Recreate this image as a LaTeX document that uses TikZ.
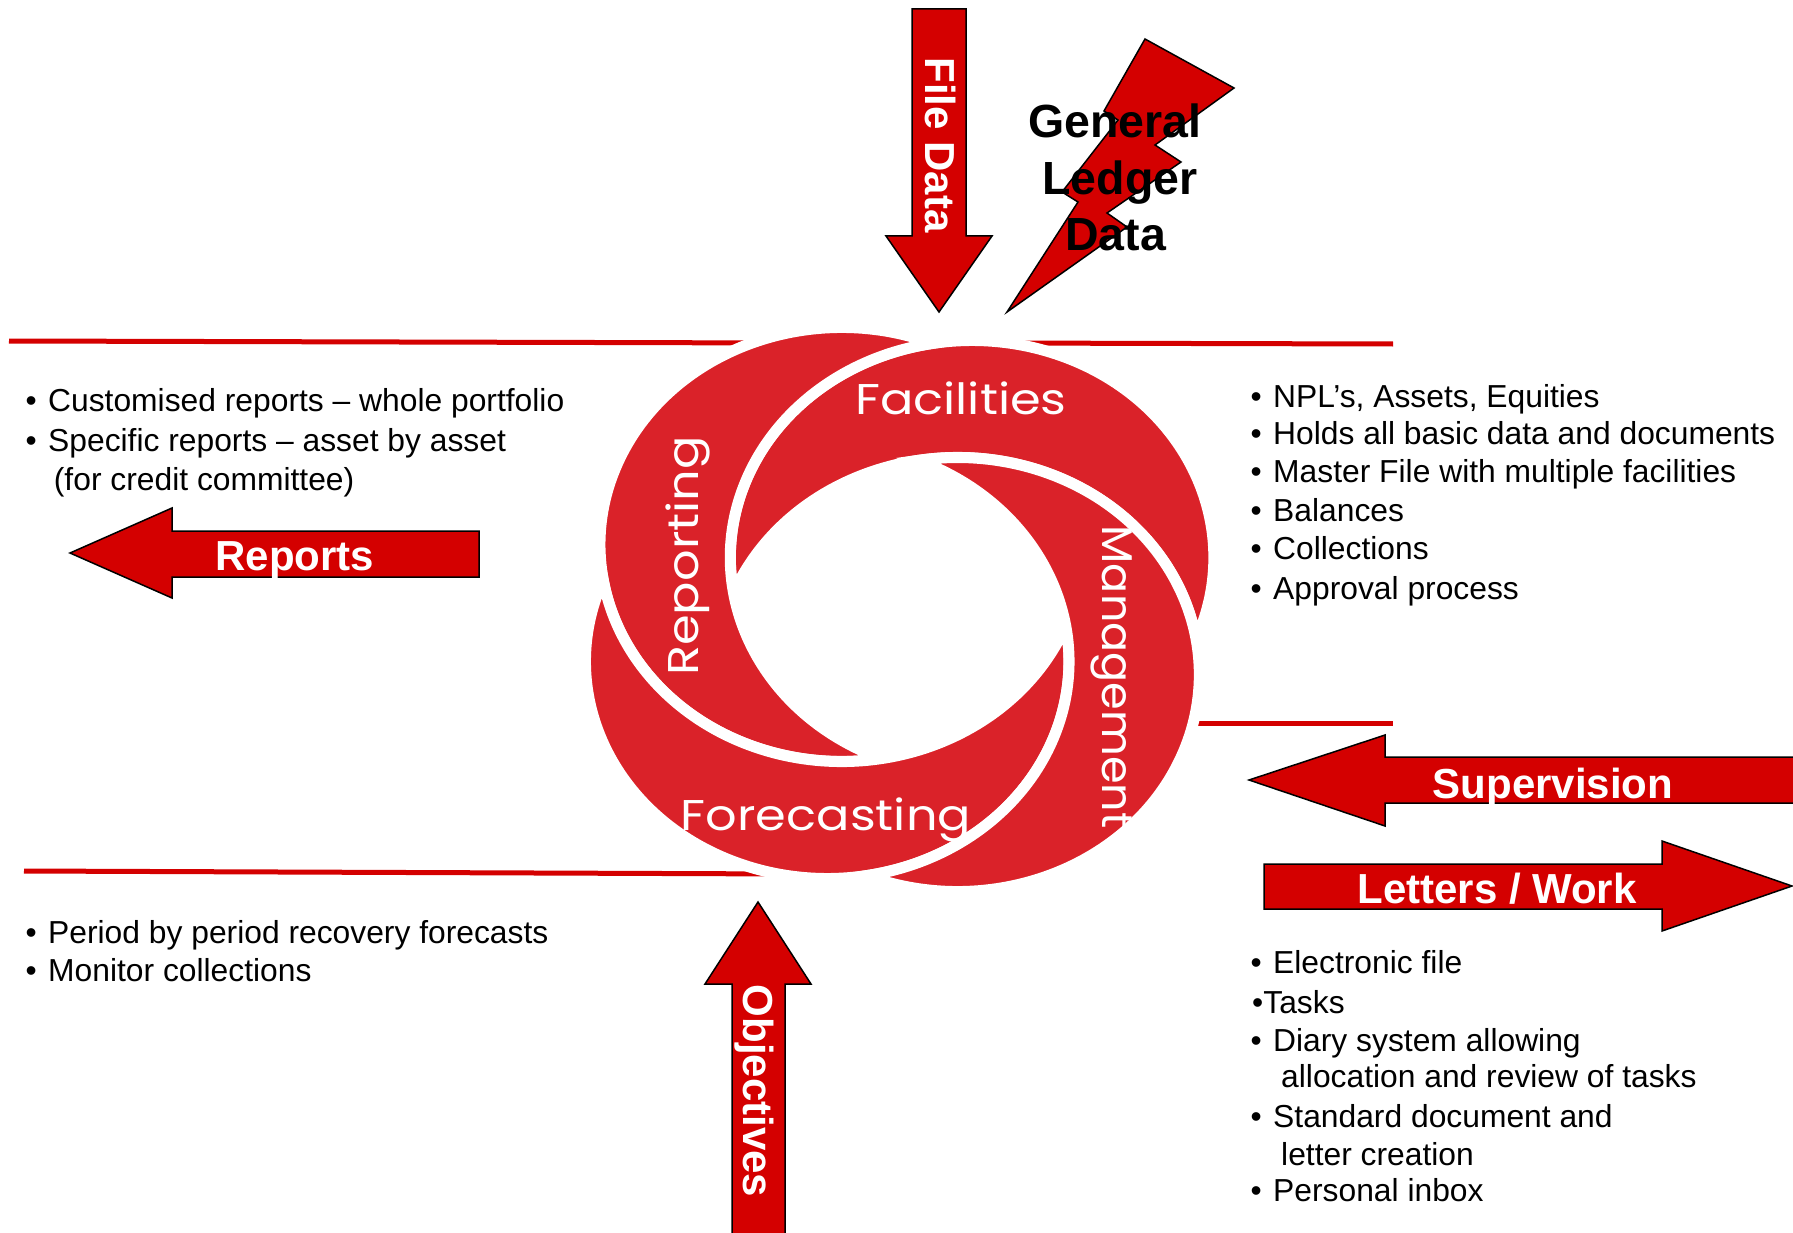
\documentclass[tikz,border=0pt]{standalone}
\usepackage{fontspec}
\setmainfont{Liberation Sans}
\newfontfamily\swirlfont[FakeStretch=1.15]{Poppins}
\definecolor{swirlred}{RGB}{218,34,41}
\definecolor{arrowred}{RGB}{212,0,0}
\newcommand{\bul}{\makebox[22.5pt][l]{•}}
% one quarter of the swirl: its own circle minus the next one
\newcommand{\swirlpiece}[1]{%
  \path[piece, rotate=#1] (266.1,-29.56) arc[start angle=-22.07, end angle=189.40, radius=217]
    arc[start angle=157.93, end angle=9.40, radius=217] -- cycle;}
\tikzset{
  piece/.style={fill=swirlred, draw=white, line width=11pt},
  blockarrow/.style={fill=arrowred, draw=black, line width=1.5pt},
  divider/.style={draw=arrowred, line width=5pt},
  bullets/.style={anchor=base west, inner sep=0pt, font=\fontsize{31.8}{38}\selectfont},
  arrowlabel/.style={anchor=base, inner sep=0pt, text=white, font=\fontsize{42}{50}\selectfont\bfseries},
  swirllabel/.style={anchor=base, inner sep=0pt, text=white, font=\swirlfont\fontsize{43}{50}\selectfont},
  ledger/.style={anchor=base, inner sep=0pt, font=\fontsize{46.5}{56}\selectfont\bfseries}
}

\begin{document}
\begin{tikzpicture}[x=1pt, y=-1pt]
\useasboundingbox (0,0) rectangle (1793,1233);

% dividers
\draw[divider] (9,341) -- (790,343);
\draw[divider] (990,343) -- (1393,344);
\draw[divider] (1182,723) -- (1393,723);
\draw[divider] (24,871) -- (792,874);

% the swirl
\begin{scope}[shift={(899.65,609.5)}, xscale=1.114, yscale=-1]
  \swirlpiece{0}
  \swirlpiece{-90}
  \swirlpiece{180}
  \swirlpiece{90}
\end{scope}

\node[swirllabel] (facilities) at (961,414) {Facilities};
\node[swirllabel, rotate=90] (reporting) at (698,556) {Reporting};
\node[swirllabel, rotate=-90, xscale=0.9] (management) at (1102,677) {Management};
\node[swirllabel] (forecasting) at (826,830) {Forecasting};

% block arrows
\draw[blockarrow] (912,9) -- (966,9) -- (966,236) -- (992,236) -- (939,312) -- (886,236) -- (912,236) -- cycle;
\draw[blockarrow] (479,531) -- (479,577) -- (172,577) -- (172,598) -- (70,553) -- (172,508) -- (172,531) -- cycle;
\draw[blockarrow] (1800,757) -- (1385,757) -- (1385,735) -- (1249,780) -- (1385,826) -- (1385,803) -- (1800,803) -- cycle;
\draw[blockarrow] (1264,864) -- (1662,864) -- (1662,841) -- (1792,886) -- (1662,931) -- (1662,909) -- (1264,909) -- cycle;
\draw[blockarrow] (732,1240) -- (732,984) -- (705,984) -- (758,902) -- (811,984) -- (785,984) -- (785,1240) -- cycle;

\node[arrowlabel, rotate=-90] (filedata) at (925,145) {File Data};
\node[arrowlabel, rotate=-90] (objectives) at (743,1091) {Objectives};
\node[arrowlabel] (reports) at (295,570) {Reports};
\node[arrowlabel] (supervision) at (1553,798) {Supervision};
\node[arrowlabel] (letters) at (1497,903) {Letters / Work};

% lightning bolt
\draw[blockarrow] (1145,39) -- (1234,88) -- (1155,145) -- (1181,162) -- (1107,213) -- (1127,227)
  -- (1007,312) -- (1078,202) -- (1062,192) -- (1118,120) -- (1104,111) -- cycle;
\node[ledger] (general) at (1115,138) {General};
\node[ledger] (ledgerword) at (1120,195) {Ledger};
\node[ledger] (gldata) at (1115.5,250.7) {Data};

% bullet lists
\node[bullets] (rep1) at (25.5,411) {\bul Customised reports -- whole portfolio};
\node[bullets] (rep2) at (25.5,451) {\bul Specific reports -- asset by asset};
\node[bullets] (rep3) at (53.7,490) {(for credit committee)};
\node[bullets] (fc1) at (25.5,943) {\bul Period by period recovery forecasts};
\node[bullets] (fc2) at (25.5,981) {\bul Monitor collections};

\node[bullets] (fac1) at (1250.5,407) {\bul NPL’s, Assets, Equities};
\node[bullets] (fac2) at (1250.5,444.5) {\bul Holds all basic data and documents};
\node[bullets] (fac3) at (1250.5,482) {\bul Master File with multiple facilities};
\node[bullets] (fac4) at (1250.5,521) {\bul Balances};
\node[bullets] (fac5) at (1250.5,559) {\bul Collections};
\node[bullets] (fac6) at (1250.5,599) {\bul Approval process};

\node[bullets] (mgt1) at (1250.5,973) {\bul Electronic file};
\node[bullets] (mgt2) at (1252,1013) {•Tasks};
\node[bullets] (mgt3) at (1250.5,1051) {\bul Diary system allowing};
\node[bullets] (mgt4) at (1281,1087) {allocation and review of tasks};
\node[bullets] (mgt5) at (1250.5,1127) {\bul Standard document and};
\node[bullets] (mgt6) at (1281,1165) {letter creation};
\node[bullets] (mgt7) at (1250.5,1201.5) {\bul Personal inbox};
\end{tikzpicture}
\end{document}
